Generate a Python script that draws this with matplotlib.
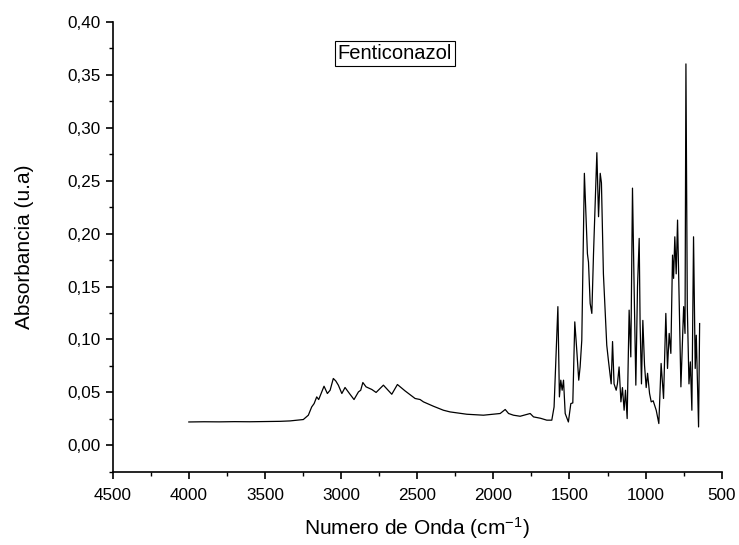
import numpy as np
import matplotlib
matplotlib.use("Agg")
import matplotlib.pyplot as plt
from matplotlib.ticker import MultipleLocator, FuncFormatter

plt.rcParams['font.family'] = ['Liberation Sans', 'DejaVu Sans']
plt.rcParams['mathtext.fontset'] = 'custom'
plt.rcParams['mathtext.rm'] = 'Liberation Sans'
plt.rcParams['mathtext.it'] = 'Liberation Sans'
plt.rcParams['mathtext.default'] = 'regular'

# --- spectrum (wavenumber cm-1, absorbance) ---
wavenumber = [
    4000, 3900, 3800, 3700, 3600, 3500, 3400, 3335, 3248, 3215, 3193, 3177,
    3160, 3147, 3131, 3112, 3090, 3072, 3051, 3035, 3018, 2995, 2974, 2945,
    2915, 2886, 2871, 2857, 2836, 2798, 2770, 2722, 2667, 2630, 2580, 2514,
    2481, 2459, 2394, 2328, 2284, 2174, 2065, 1955, 1922, 1900, 1868, 1824,
    1758, 1736, 1690, 1649, 1616, 1601, 1576, 1566, 1557, 1548, 1539, 1528,
    1507, 1491, 1478, 1465, 1452, 1439, 1430, 1419, 1402, 1382, 1375, 1364,
    1353, 1342, 1320, 1309, 1298, 1290, 1277, 1255, 1244, 1226, 1217, 1207,
    1193, 1185, 1174, 1162, 1152, 1141, 1132, 1121, 1108, 1097, 1086, 1075,
    1064, 1053, 1042, 1036, 1027, 1018, 1007, 996, 987, 974, 963, 950, 930,
    913, 898, 882, 867, 856, 845, 834, 823, 816, 808, 799, 790, 768, 750,
    741, 735, 726, 715, 706, 696, 685, 674, 667, 652, 645,
]
absorbance = [
    0.0220, 0.0222, 0.0221, 0.0223, 0.0222, 0.0224, 0.0226, 0.0230, 0.0243,
    0.0284, 0.0362, 0.0394, 0.0457, 0.0432, 0.0489, 0.0558, 0.0489, 0.0520,
    0.0631, 0.0608, 0.0568, 0.0489, 0.0546, 0.0489, 0.0432, 0.0504, 0.0520,
    0.0593, 0.0552, 0.0527, 0.0499, 0.0568, 0.0482, 0.0574, 0.0514, 0.0442,
    0.0432, 0.0410, 0.0369, 0.0331, 0.0315, 0.0293, 0.0284, 0.0300, 0.0338,
    0.0300, 0.0284, 0.0274, 0.0300, 0.0268, 0.0255, 0.0237, 0.0237, 0.0362,
    0.1310, 0.0457, 0.0615, 0.0520, 0.0615, 0.0300, 0.0220, 0.0394, 0.0400,
    0.1166, 0.0899, 0.0615, 0.0740, 0.0993, 0.2570, 0.1810, 0.1730, 0.1340,
    0.1246, 0.1810, 0.2765, 0.2160, 0.2570, 0.2480, 0.1620, 0.0946, 0.0800,
    0.0580, 0.0980, 0.0580, 0.0520, 0.0580, 0.0740, 0.0410, 0.0545, 0.0331,
    0.0520, 0.0252, 0.1277, 0.0835, 0.2430, 0.1466, 0.0568, 0.1500, 0.1955,
    0.1150, 0.0580, 0.1180, 0.0757, 0.0545, 0.0680, 0.0490, 0.0410, 0.0420,
    0.0330, 0.0205, 0.0773, 0.0442, 0.1246, 0.0726, 0.1057, 0.0868, 0.1797,
    0.1577, 0.1970, 0.1620, 0.2128, 0.0552, 0.1310, 0.1057, 0.3604, 0.1310,
    0.0580, 0.0788, 0.0331, 0.1970, 0.0726, 0.1040, 0.0173, 0.1150,
]
title_text = "Fenticonazol"

fig = plt.figure(figsize=(7.39, 5.45), dpi=100)
ax = fig.add_axes([0.1525, 0.1345, 0.8241, 0.8251])

ax.plot(wavenumber, absorbance, color='black', linewidth=0.9)

ax.set_xlim(4500, 500)
ax.set_ylim(-0.025, 0.40)

ax.xaxis.set_major_locator(MultipleLocator(500))
ax.xaxis.set_minor_locator(MultipleLocator(250))
ax.yaxis.set_major_locator(MultipleLocator(0.05))
ax.yaxis.set_minor_locator(MultipleLocator(0.025))
ax.yaxis.set_major_formatter(FuncFormatter(lambda v, p: f"{v:.2f}".replace('.', ',')))
ax.xaxis.set_major_formatter(FuncFormatter(lambda v, p: f"{v:.0f}"))

for side in ['top', 'right']:
    ax.spines[side].set_visible(False)
for side in ['left', 'bottom']:
    ax.spines[side].set_linewidth(1.2)

ax.tick_params(which='major', direction='out', length=5, width=1.2, labelsize=12.3)
ax.tick_params(which='minor', direction='out', length=3, width=1.0)
ax.tick_params(axis='x', which='major', pad=6.5)

ax.set_xlabel("Numero de Onda (cm$^{-1}$)", fontsize=15, labelpad=9)
ax.set_ylabel("Absorbancia (u.a)", fontsize=15, labelpad=24)

ax.text(0.4636, 0.931, title_text, transform=ax.transAxes, ha='center', va='center',
        fontsize=14.5,
        bbox=dict(boxstyle='square,pad=0.15', facecolor='white', edgecolor='black', linewidth=0.8))

fig.savefig("out.png", dpi=100)
